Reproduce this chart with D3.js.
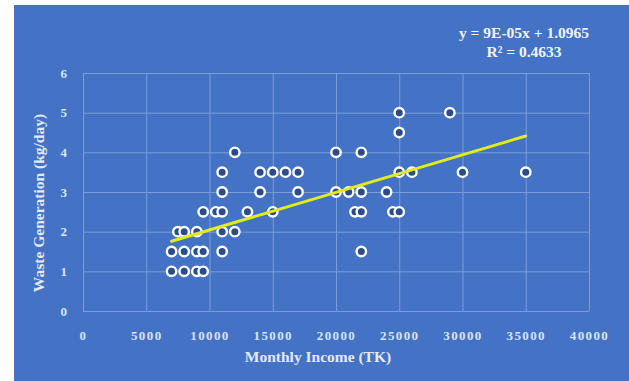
<!DOCTYPE html>
<html>
<head>
<meta charset="utf-8">
<script src="https://cdn.jsdelivr.net/npm/d3@7"></script>
<style>
  html, body { margin: 0; padding: 0; background: #ffffff; }
  svg { display: block; }
  text { font-family: "Liberation Serif", "Times New Roman", serif; font-weight: bold; }
</style>
</head>
<body>
<svg id="chart" width="629" height="381"></svg>
<script>
// Monthly income (TK) and waste generation (kg/day) per household
const income = [
  7000, 8000, 9000, 9500,
  7000, 8000, 9000, 9500, 11000, 22000,
  7500, 8000, 9000, 11000, 12000,
  9500, 10500, 11000, 13000, 15000, 21500, 22000, 24500, 25000,
  11000, 14000, 17000, 20000, 21000, 22000, 24000,
  11000, 14000, 15000, 16000, 17000, 25000, 26000, 30000, 35000,
  12000, 20000, 22000,
  25000,
  25000, 29000
];
const waste = [
  1, 1, 1, 1,
  1.5, 1.5, 1.5, 1.5, 1.5, 1.5,
  2, 2, 2, 2, 2,
  2.5, 2.5, 2.5, 2.5, 2.5, 2.5, 2.5, 2.5, 2.5,
  3, 3, 3, 3, 3, 3, 3,
  3.5, 3.5, 3.5, 3.5, 3.5, 3.5, 3.5, 3.5, 3.5,
  4, 4, 4,
  4.5,
  5, 5
];

// Linear trend line coefficients and fit quality
const trendSlope = 9.47e-5;
const trendIntercept = 1.0965;
const rSquared = 0.4633;

const xTicks = [0, 5000, 10000, 15000, 20000, 25000, 30000, 35000, 40000];
const yTicks = [0, 1, 2, 3, 4, 5, 6];

const xTitle = "Monthly Income (TK)";
const yTitle = "Waste Generation (kg/day)";

const svg = d3.select("#chart");
const W = 629, H = 381;
const plot = { left: 83, right: 589, top: 73, bottom: 311 };

// Chart area background
svg.append("rect")
  .attr("x", 14).attr("y", 5)
  .attr("width", W - 14).attr("height", H - 5)
  .attr("fill", "#4472c4");

const x = d3.scaleLinear().domain([0, 40000]).range([plot.left, plot.right]);
const y = d3.scaleLinear().domain([0, 6]).range([plot.bottom, plot.top]);

const gridColor = "#7e9dd8";

// Vertical gridlines
svg.append("g")
  .attr("transform", `translate(0,${plot.bottom})`)
  .call(d3.axisBottom(x).tickValues(xTicks).tickSize(-(plot.bottom - plot.top)).tickFormat(""))
  .call(g => g.select(".domain").remove())
  .call(g => g.selectAll("line").attr("stroke", gridColor).attr("stroke-width", 1));

// Horizontal gridlines
svg.append("g")
  .attr("transform", `translate(${plot.left},0)`)
  .call(d3.axisLeft(y).tickValues(yTicks).tickSize(-(plot.right - plot.left)).tickFormat(""))
  .call(g => g.select(".domain").remove())
  .call(g => g.selectAll("line").attr("stroke", gridColor).attr("stroke-width", 1));

// Tick labels
const tickColor = "#dbe3f4";
svg.append("g")
  .attr("transform", `translate(0,${plot.bottom})`)
  .call(d3.axisBottom(x).tickValues(xTicks).tickSize(0).tickPadding(20).tickFormat(d3.format("d")))
  .call(g => g.select(".domain").remove())
  .call(g => g.selectAll("text")
    .attr("fill", tickColor)
    .style("font-size", "13px")
    .style("letter-spacing", "1.4px"));

svg.append("g")
  .attr("transform", `translate(${plot.left},0)`)
  .call(d3.axisLeft(y).tickValues(yTicks).tickSize(0).tickPadding(16).tickFormat(d3.format("d")))
  .call(g => g.select(".domain").remove())
  .call(g => g.selectAll("text")
    .attr("fill", tickColor)
    .style("font-size", "13px"));

// Data points
const points = income.map((v, i) => ({ x: v, y: waste[i] }));
svg.append("g")
  .selectAll("circle")
  .data(points)
  .join("circle")
  .attr("cx", d => x(d.x))
  .attr("cy", d => y(d.y))
  .attr("r", 4.7)
  .attr("fill", "#2c4b8b")
  .attr("stroke", "#ffffff")
  .attr("stroke-width", 2.4);

// Trend line across the observed income range
const xMin = d3.min(income), xMax = d3.max(income);
svg.append("line")
  .attr("x1", x(xMin)).attr("y1", y(trendSlope * xMin + trendIntercept))
  .attr("x2", x(xMax)).attr("y2", y(trendSlope * xMax + trendIntercept))
  .attr("stroke", "#e2ec1c")
  .attr("stroke-width", 3)
  .attr("stroke-linecap", "round");

// Trend equation and R²
const slopeParts = trendSlope.toExponential(0).split("e");
const slopeText = slopeParts[0] + "E" + (slopeParts[1][0] === "-" ? "-" : "+") +
  String(Math.abs(+slopeParts[1])).padStart(2, "0");
svg.append("text")
  .attr("x", 524).attr("y", 38)
  .attr("text-anchor", "middle")
  .attr("fill", "#f2f5fb")
  .style("font-size", "15.5px")
  .text(`y = ${slopeText}x + ${trendIntercept.toFixed(4)}`);
svg.append("text")
  .attr("x", 524).attr("y", 57)
  .attr("text-anchor", "middle")
  .attr("fill", "#f2f5fb")
  .style("font-size", "15.5px")
  .text(`R² = ${rSquared.toFixed(4)}`);

// Axis titles
svg.append("text")
  .attr("x", 318).attr("y", 362)
  .attr("text-anchor", "middle")
  .attr("fill", "#e4eaf6")
  .style("font-size", "15.5px")
  .text(xTitle);

svg.append("text")
  .attr("transform", `translate(44,${203}) rotate(-90)`)
  .attr("text-anchor", "middle")
  .attr("fill", "#e4eaf6")
  .style("font-size", "15.5px")
  .text(yTitle);
</script>
</body>
</html>
